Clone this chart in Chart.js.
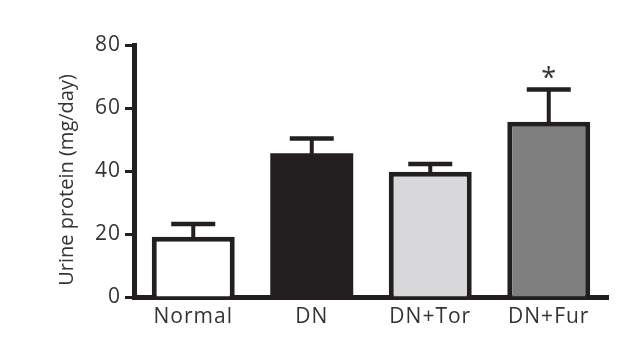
<!DOCTYPE html>
<html>
<head>
<meta charset="utf-8">
<script src="https://cdn.jsdelivr.net/npm/chart.js@4.4.1/dist/chart.umd.min.js"></script>
<style>
  html, body { margin: 0; padding: 0; background: #ffffff; }
  #wrap { width: 638px; height: 343px; }
</style>
</head>
<body>
<div id="wrap"><canvas id="c" width="638" height="343"></canvas></div>
<script>
// ---- data ----
const categories = ['Normal', 'DN', 'DN+Tor', 'DN+Fur'];
const means = [19.1, 45.6, 39.8, 55.6];
const sems = [4.1, 4.7, 2.4, 10.3];
const markers = ['', '', '', '*'];
const yTicks = [0, 20, 40, 60, 80];
const yTitle = 'Urine protein (mg/day)';
const fillColors = ['#ffffff', '#231f20', '#d8d8da', '#7f7f7f'];

const INK = '#231f20';
const TEXT = '#333338';

const errorBarPlugin = {
  id: 'errorBars',
  afterDatasetsDraw(chart) {
    const ctx = chart.ctx;
    const meta = chart.getDatasetMeta(0);
    const y = chart.scales.y;
    ctx.save();
    ctx.strokeStyle = INK;
    ctx.lineCap = 'butt';
    meta.data.forEach((bar, i) => {
      const x = bar.x;
      const yBar = y.getPixelForValue(means[i]);
      const yTop = y.getPixelForValue(means[i] + sems[i]);
      ctx.lineWidth = 4;
      ctx.beginPath();
      ctx.moveTo(x, yBar + 2);
      ctx.lineTo(x, yTop);
      ctx.stroke();
      ctx.lineWidth = 4.5;
      ctx.beginPath();
      ctx.moveTo(x - 22, yTop);
      ctx.lineTo(x + 22, yTop);
      ctx.stroke();
      if (markers[i]) {
        ctx.fillStyle = TEXT;
        ctx.font = '27px "Open Sans"';
        ctx.textAlign = 'center';
        ctx.textBaseline = 'alphabetic';
        ctx.letterSpacing = '0px';
        ctx.fillText(markers[i], x, yTop - 2);
      }
    });
    ctx.restore();
  }
};

const spacingPlugin = {
  id: 'spacing',
  beforeDraw(chart) {
    chart.ctx.letterSpacing = '1px';
  },
  afterDraw(chart) {
    const ctx = chart.ctx;
    const area = chart.chartArea;
    ctx.save();
    ctx.letterSpacing = '0px';
    ctx.fillStyle = TEXT;
    ctx.font = '20px "Open Sans"';
    ctx.textAlign = 'center';
    ctx.textBaseline = 'middle';
    ctx.translate(67, (area.top + area.bottom) / 2 + 9);
    ctx.rotate(-Math.PI / 2);
    ctx.fillText(yTitle, 0, 0);
    ctx.restore();
    ctx.letterSpacing = '0px';
  }
};

new Chart(document.getElementById('c'), {
  type: 'bar',
  data: {
    labels: categories,
    datasets: [{
      data: means,
      backgroundColor: fillColors,
      borderColor: INK,
      borderWidth: [5, 0, 5, 5],
      borderSkipped: 'start',
      categoryPercentage: 1.0,
      barPercentage: 0.7
    }]
  },
  options: {
    responsive: false,
    animation: false,
    devicePixelRatio: 1,
    layout: { padding: { left: 0, top: 45, right: 30, bottom: 0 } },
    plugins: {
      legend: { display: false },
      tooltip: { enabled: false }
    },
    scales: {
      x: {
        grid: { display: false, drawTicks: false },
        border: { display: true, width: 5, color: INK },
        ticks: {
          color: TEXT,
          font: { family: 'Open Sans', size: 21 },
          padding: 7,
          maxRotation: 0
        },
        afterFit(s) { s.height = 46; }
      },
      y: {
        min: 0,
        max: 80,
        afterBuildTicks(s) { s.ticks = yTicks.map(v => ({ value: v })); },
        grid: {
          display: true,
          drawOnChartArea: false,
          drawTicks: true,
          tickLength: 9,
          tickWidth: 3,
          color: INK
        },
        border: { display: true, width: 5, color: INK },
        ticks: {
          color: TEXT,
          font: { family: 'Open Sans', size: 21 },
          padding: 4
        },
        afterFit(s) { s.width = 134; }
      }
    }
  },
  plugins: [errorBarPlugin, spacingPlugin]
});
</script>
</body>
</html>
